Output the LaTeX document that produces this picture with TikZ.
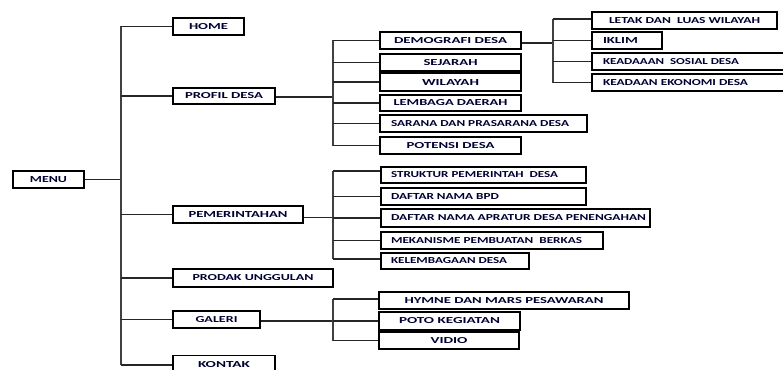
\documentclass[tikz,border=0pt]{standalone}
\usepackage{graphicx}
\usepackage{fontspec}
\newfontfamily\boxfont{Carlito Bold}
\newcommand\tx[2]{\resizebox{#1pt}{6pt}{\boxfont\fontsize{9.3}{10}\selectfont #2}}
\newcommand\ltx[4]{\makebox[#1pt][l]{\hspace{#2pt}\tx{#3}{#4}}}
\begin{document}
\begin{tikzpicture}[x=1pt,y=-1pt,
  box/.style={draw=black, line width=1.1pt, rectangle, inner xsep=0pt, inner ysep=0pt,
    minimum height=17pt, text=black!80!blue},
  wire/.style={line width=1.1pt, draw=black!85},
  bus/.style={line width=1.8pt, draw=black!75}]
\useasboundingbox (0,0) rectangle (783,369);

% level 0 and 1
\node[box, minimum width=71pt] (menu) at (48.5,179.5) {\tx{37}{MENU}};
\node[box, minimum width=71pt] (home) at (208.5,26.5) {\tx{39}{HOME}};
\node[box, minimum width=102pt, minimum height=16pt] (profil) at (224,96) {\tx{78}{PROFIL DESA}};
\node[box, minimum width=130pt] (pem) at (238,214.5) {\tx{99}{PEMERINTAHAN}};
\node[box, minimum width=160pt, minimum height=18pt] (prodak) at (253,278) {\tx{121}{PRODAK UNGGULAN}};
\node[box, minimum width=87pt] (galeri) at (216.5,319.5) {\tx{42}{GALERI}};
\node[box, minimum width=102pt, minimum height=19pt] (kontak) at (224,365) {\raisebox{2pt}{\tx{52}{KONTAK}}};

% profil desa
\node[box, minimum width=141pt] (demo) at (450.5,40.5) {\tx{113}{DEMOGRAFI DESA}};
\node[box, minimum width=141pt] (sejarah) at (450.5,62.5) {\tx{54}{SEJARAH}};
\node[box, minimum width=141pt, minimum height=18pt] (wilayah) at (450.5,82) {\tx{57}{WILAYAH}};
\node[box, minimum width=141pt, minimum height=16pt] (lembaga) at (450.5,103) {\tx{114}{LEMBAGA DAERAH}};
\node[box] (sarana) at (483.5,123.5) {\ltx{207}{11}{178}{SARANA DAN PRASARANA~DESA}};
\node[box, minimum width=141pt] (potensi) at (450.5,145.5) {\tx{88}{POTENSI DESA}};

% demografi
\node[box, minimum width=185pt] (letak) at (684.5,20.5) {\tx{151}{LETAK DAN~~LUAS WILAYAH}};
\node[box] (iklim) at (627,40.5) {\ltx{70}{11}{35}{IKLIM}};
\node[box] (sosial) at (691,61.5) {\ltx{198}{11}{136}{KEADAAAN~~SOSIAL DESA}};
\node[box] (ekonomi) at (691,82.5) {\ltx{198}{11}{145}{KEADAAN EKONOMI DESA}};

% pemerintahan
\node[box, minimum height=16pt] (struktur) at (483.5,175) {\ltx{205}{10}{167}{STRUKTUR PEMERINTAH~~DESA}};
\node[box] (bpd) at (483.5,196.5) {\ltx{205}{10}{108}{DAFTAR NAMA BPD}};
\node[box, minimum height=18pt] (aparatur) at (515.5,218) {\ltx{269}{10}{255}{DAFTAR NAMA~APRATUR~DESA~PENENGAHAN}};
\node[box] (mekanisme) at (492,240.5) {\ltx{222}{10}{191}{MEKANISME PEMBUATAN~~BERKAS}};
\node[box, minimum height=16pt] (kelembagaan) at (455,261) {\ltx{148}{10}{116}{KELEMBAGAAN~DESA}};

% galeri
\node[box, minimum width=250pt] (hymne) at (504,300.5) {\tx{199}{HYMNE DAN MARS PESAWARAN}};
\node[box, minimum width=141pt, minimum height=18pt] (poto) at (449.5,321) {\tx{101}{POTO KEGIATAN}};
\node[box, minimum width=140pt] (vidio) at (449,340.5) {\tx{37}{VIDIO}};

% bus positions
\coordinate (mb) at (121,0);
\coordinate (pb) at (333,0);
\coordinate (db) at (553,0);

% main
\draw[wire] (menu.east) -- (menu.east -| mb);
\draw[bus] (mb |- home.west) -- (mb |- kontak.west);
\foreach \n in {home,profil,pem,prodak,galeri,kontak}
  \draw[wire] (mb |- \n.west) -- (\n.west);

% profil
\draw[wire] ([yshift=-1pt]profil.east) -- ([yshift=-1pt]profil.east -| pb);
\draw[bus] (pb |- demo.west) -- (pb |- potensi.west);
\foreach \n in {demo,sejarah,wilayah,lembaga,sarana,potensi}
  \draw[wire] (pb |- \n.west) -- (\n.west);

% demografi
\draw[wire] ([yshift=-2.5pt]demo.east) -- ([yshift=-2.5pt]demo.east -| db);
\draw[bus] ([yshift=1.5pt]db |- letak.west) -- (db |- ekonomi.west);
\draw[wire] ([yshift=1.5pt]db |- letak.west) -- ([yshift=1.5pt]letak.west);
\foreach \n in {iklim,sosial,ekonomi}
  \draw[wire] (db |- \n.west) -- (\n.west);

% pemerintahan
\draw[wire] ([yshift=-3pt]pem.east) -- ([yshift=-3pt]pem.east -| pb);
\draw[bus] ([yshift=4pt]pb |- struktur.west) -- ([yshift=2pt]pb |- kelembagaan.west);
\draw[wire] ([yshift=4pt]pb |- struktur.west) -- ([yshift=4pt]struktur.west);
\draw[wire] ([yshift=2pt]pb |- kelembagaan.west) -- ([yshift=2pt]kelembagaan.west);
\foreach \n in {bpd,aparatur,mekanisme}
  \draw[wire] (pb |- \n.west) -- (\n.west);

% galeri
\draw[wire] ([yshift=-1.5pt]galeri.east) -- ([yshift=-1.5pt]galeri.east -| pb);
\draw[bus] ([yshift=1.5pt]pb |- hymne.west) -- (pb |- vidio.west);
\draw[wire] ([yshift=1.5pt]pb |- hymne.west) -- ([yshift=1.5pt]hymne.west);
\foreach \n in {poto,vidio}
  \draw[wire] (pb |- \n.west) -- (\n.west);
\end{tikzpicture}
\end{document}
